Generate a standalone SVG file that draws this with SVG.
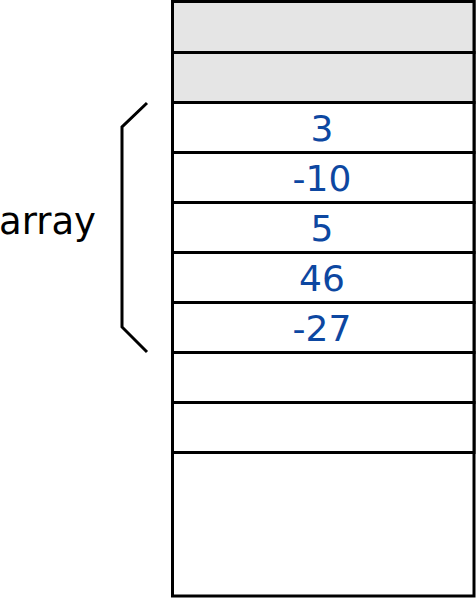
<svg xmlns="http://www.w3.org/2000/svg" width="476" height="598" viewBox="0 0 476 598">
<style>
.cell{fill:#ffffff;stroke:#000;stroke-width:3}
.gray{fill:#e5e5e5}
.val{font-family:"DejaVu Sans",sans-serif;font-size:36px;fill:#0d47a1;text-anchor:middle}
.lbl{font-family:"DejaVu Sans",sans-serif;font-size:37px;fill:#000}
.br{fill:none;stroke:#000;stroke-width:3}
</style>
<g id="memory">
<rect class="cell" x="172.5" y="1.5" width="301.5" height="594.5"/>
<rect class="cell gray" x="172.5" y="1.5" width="301.5" height="51"/>
<rect class="cell gray" x="172.5" y="52.5" width="301.5" height="50"/>
<rect class="cell" x="172.5" y="102.5" width="301.5" height="50"/>
<rect class="cell" x="172.5" y="152.5" width="301.5" height="50"/>
<rect class="cell" x="172.5" y="202.5" width="301.5" height="50"/>
<rect class="cell" x="172.5" y="252.5" width="301.5" height="50"/>
<rect class="cell" x="172.5" y="302.5" width="301.5" height="50"/>
<rect class="cell" x="172.5" y="352.5" width="301.5" height="50"/>
<rect class="cell" x="172.5" y="402.5" width="301.5" height="50"/>
</g>
<g id="values">
<text class="val" x="322" y="141">3</text>
<text class="val" x="322" y="191">-10</text>
<text class="val" x="322" y="241">5</text>
<text class="val" x="322" y="291">46</text>
<text class="val" x="322" y="341">-27</text>
</g>
<g id="array-label">
<path class="br" d="M147,103 L122,127 L122,327 L147,352"/>
<text class="lbl" x="-1" y="234">array</text>
</g>
</svg>
